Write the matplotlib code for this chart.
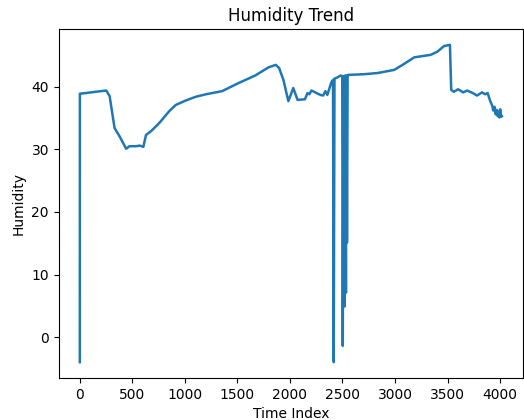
import matplotlib
matplotlib.use("Agg")
import matplotlib.pyplot as plt

# humidity readings sampled along the time index
time_index = [0, 1, 60, 150, 252, 284, 331, 378, 441, 473, 536, 570, 605, 630,
              678, 756, 851, 914, 1008, 1103, 1200, 1354, 1512, 1670, 1796, 1865,
              1897, 1938, 1985, 2032, 2073, 2143, 2167, 2185, 2205, 2230, 2252,
              2290, 2316, 2337, 2356, 2394, 2410, 2417, 2424, 2441, 2483, 2498,
              2503, 2510, 2520, 2526, 2533, 2538, 2543, 2549, 2555, 2700, 2836,
              2993, 3072, 3183, 3260, 3339, 3403, 3466, 3523, 3535, 3560, 3600,
              3650, 3686, 3740, 3781, 3828, 3860, 3882, 3895, 3907, 3925, 3935,
              3948, 3958, 3970, 3978, 3986, 3994, 4001, 4010, 4017]
humidity = [-4.0, 38.9, 39.0, 39.2, 39.4, 38.5, 33.4, 32.1, 30.1, 30.5, 30.5,
            30.6, 30.4, 32.3, 32.9, 34.2, 36.1, 37.1, 37.8, 38.4, 38.8, 39.3,
            40.6, 41.8, 43.1, 43.5, 43.0, 41.1, 37.7, 39.8, 37.9, 38.0, 39.0,
            38.8, 39.4, 39.2, 39.0, 38.7, 38.6, 39.3, 38.7, 40.7, 41.1, -4.0,
            41.3, 41.4, 41.8, 41.7, -1.4, 41.7, 4.9, 41.8, 7.1, 41.8, 15.1,
            41.8, 41.9, 42.0, 42.2, 42.7, 43.5, 44.7, 44.9, 45.1, 45.6, 46.5,
            46.7, 39.5, 39.2, 39.6, 39.1, 39.4, 39.0, 38.6, 39.1, 38.8, 39.0,
            38.3, 37.7, 37.0, 36.2, 36.8, 35.6, 36.3, 35.3, 36.0, 35.1, 36.4,
            35.2, 35.3]

fig = plt.figure(figsize=(5.24, 4.2), dpi=100)
ax = fig.add_axes([0.112, 0.1, 0.886, 0.831])
ax.plot(time_index, humidity, color="#1f77b4", linewidth=1.8)
ax.set_title("Humidity Trend")
ax.set_xlabel("Time Index")
ax.set_ylabel("Humidity")
fig.savefig("out.png", dpi=100)
